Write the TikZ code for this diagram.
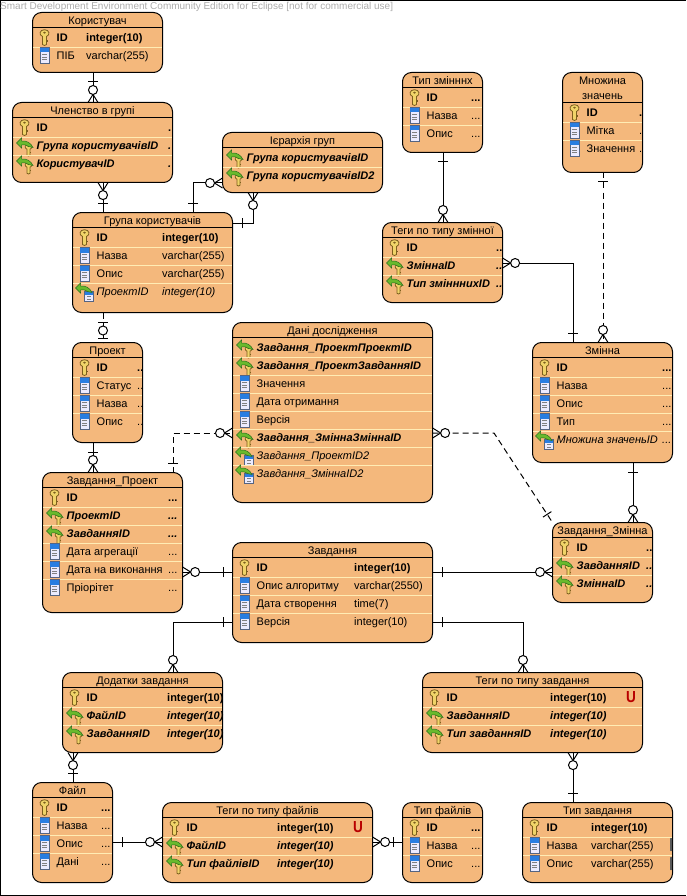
\documentclass[tikz,border=0pt]{standalone}
\usepackage{fontspec}
\setmainfont{Liberation Sans}
\usetikzlibrary{decorations.markings}
\definecolor{entityfill}{RGB}{244,184,124}
\definecolor{rowcream}{RGB}{255,236,180}
\definecolor{keygold}{RGB}{240,212,105}
\definecolor{keydark}{RGB}{125,95,30}
\definecolor{arrowgreen}{RGB}{105,185,45}
\definecolor{arrowdark}{RGB}{40,110,30}
\definecolor{colblue}{RGB}{40,125,225}
\definecolor{coledge}{RGB}{85,100,130}
\newcommand{\etc}{...}
\tikzset{%
	entity/.style    = {draw, fill=entityfill, rectangle, rounded corners=9pt, line width=1pt, inner sep=0pt, outer sep=0pt},
	titletext/.style = {inner sep=0pt, align=center, font=\fontsize{11}{15}\selectfont},
	rowtext/.style   = {inner sep=0pt, anchor=base west},
	row pk/.style    = {font=\fontsize{11}{13}\selectfont\bfseries},
	row fk/.style    = {font=\fontsize{11}{13}\selectfont\bfseries\itshape},
	row col/.style   = {font=\fontsize{11}{13}\selectfont},
	row fi/.style    = {font=\fontsize{11}{13}\selectfont\itshape},
	rowline/.style   = {draw=rowcream, line width=1pt},
	rel/.style       = {draw, line width=1pt},
	reld/.style      = {rel, dash pattern=on 6pt off 4pt},
	uniq/.style      = {inner sep=0pt, xscale=0.85, text=red!72!black, font=\fontsize{16}{16}\selectfont\bfseries},
	% relation ends
	one start/.style  = {postaction={decorate,decoration={markings,mark=at position 9.5pt with {\draw[solid] (0pt,-5pt) -- (0pt,5pt);}}}},
	one end/.style    = {postaction={decorate,decoration={markings,mark=at position -9.5pt with {\draw[solid] (0pt,-5pt) -- (0pt,5pt);}}}},
	many start/.style = {postaction={decorate,decoration={markings,mark=at position 0.1pt with {\draw[solid] (8pt,0pt) -- (0pt,5pt) (8pt,0pt) -- (0pt,-5pt);\draw[solid,fill=white] (12.5pt,0pt) circle (4.5pt);}}}},
	many end/.style   = {postaction={decorate,decoration={markings,mark=at position -8pt with {\draw[solid] (0pt,0pt) -- (8pt,5pt) (0pt,0pt) -- (8pt,-5pt);\draw[solid,fill=white] (-4.5pt,0pt) circle (4.5pt);}}}},
	zeroone end/.style = {postaction={decorate,decoration={markings,mark=at position -12pt with {\draw[solid,fill=white] (0pt,0pt) circle (4.5pt);\draw[solid] (8pt,-5pt) -- (8pt,5pt);}}}},
	% row icons, y runs downwards
	pics/key/.style = {code={
		\draw[draw=keydark, fill=keygold, line width=0.8pt] (-2,-1) -- (-2,7) -- (0,8) -- (2,7) -- (2,-1) .. controls (6,-2.5) and (5,-7.8) .. (0,-7.8) .. controls (-5,-7.8) and (-6,-2.5) .. (-2,-1) -- cycle;
		\fill[keydark] (0,-4.8) ellipse (1.4 and 1);
		\fill[keydark] (2,3) rectangle (3.2,4.2);
	}},
	pics/greenback/.style = {code={
		\draw[draw=arrowdark, fill=arrowgreen, line width=0.5pt] (-8,-2.5) -- (-3,-7.5) -- (-3,-4.5) .. controls (2,-5) and (6,-3) .. (8.5,2) -- (4,1) .. controls (1,-1) and (-1,-1) .. (-3,-0.5) -- (-3,2.5) -- cycle;
	}},
	pics/pk icon/.style = {code={\pic {key};}},
	pics/col icon/.style = {code={
		\draw[draw=coledge, fill=white!92!blue, line width=0.7pt] (-4.5,-8) rectangle (4.5,8);
		\fill[colblue] (-4.2,-7.7) rectangle (4.2,-3);
		\draw[gray, line width=0.7pt] (-2.5,-1) -- (2.5,-1) (-2.5,1.5) -- (2.5,1.5) (-2.5,4) -- (2.5,4);
	}},
	pics/fk icon/.style = {code={
		\pic[xshift=4pt, yshift=-4.5pt, scale=0.75] {key};
		\pic {greenback};
	}},
	pics/fi icon/.style = {code={
		\draw[draw=coledge, fill=white!92!blue, line width=0.6pt] (0,0) rectangle (9,9.5);
		\fill[colblue] (0.3,0.3) rectangle (8.7,3.2);
		\draw[gray, line width=0.6pt] (2.5,5) -- (6.5,5) (2.5,7.3) -- (6.5,7.3);
		\pic[xshift=-1pt, yshift=1pt] {greenback};
	}},
}
% [title height]{name}{left}{top}{right}{bottom}{title}{type column}{rows}
\newcommand{\entity}[9][15]{%
	\node[entity, minimum width={(#5-#3)*1pt}, minimum height={(#6-#4)*1pt}] (#2) at ({(#3+#5)/2},{(#4+#6)/2}) {};
	\pgfmathsetmacro{\titley}{#1/2+1.5}
	\node[titletext] (#2-title) at ([shift={(0,\titley)}]#2.north) {\strut #7};
	\draw[line width=1pt] ([yshift=-#1 pt]#2.north west) -- ([yshift=-#1 pt]#2.north east);
	\foreach \kind/\lab/\typ [count=\i] in {#9} {
		\pgfmathsetmacro{\rowy}{#1+18*\i-8}
		\pgfmathsetmacro{\liney}{#1+18*\i-16}
		\pgfmathsetmacro{\basey}{\rowy+4}
		\pgfmathsetmacro{\typx}{#8-#3}
		\ifnum\i>1
			\draw[rowline] ([shift={(0.5,\liney)}]#2.north west) -- ([shift={(-0.5,\liney)}]#2.north east);
		\fi
		\pic at ([shift={(12,\rowy)}]#2.north west) {\kind\space icon};
		\node[rowtext, row \kind] (#2-name-\i) at ([shift={(24,\basey)}]#2.north west) {\lab};
		\node[rowtext, row \kind] (#2-type-\i) at ([shift={(\typx,\basey)}]#2.north west) {\typ};
	}
}

\begin{document}
\begin{tikzpicture}[x=1pt, y=-1pt]
	\useasboundingbox (0,0) rectangle (686,896);
	\draw[line width=1pt] (686,0.5) -- (0.5,0.5) -- (0.5,895) -- (686,895);
	\node[inner sep=0pt, anchor=west, text=gray!65, font=\fontsize{10}{12}\selectfont] (banner) at (0,6.5) {Smart Development Environment Community Edition for Eclipse [not for commercial use]};

	\entity{user}{32.5}{12.5}{162.5}{72.5}{Користувач}{86}{pk/ID/integer(10), col/ПІБ/varchar(255)}
	\entity{member}{12.5}{102.5}{172.5}{182.5}{Членство в групі}{168}{pk/ID/., fk/Група користувачівID/., fk/КористувачID/.}
	\entity{hier}{222.5}{132.5}{382.5}{192.5}{Ієрархія груп}{382}{fk/Група користувачівID/{}, fk/Група користувачівID2/{}}
	\entity{group}{72.5}{212.5}{232.5}{312.5}{Група користувачів}{162}{pk/ID/integer(10), col/Назва/varchar(255), col/Опис/varchar(255), fi/ПроектID/integer(10)}
	\entity{proj}{72.5}{342.5}{142.5}{442.5}{Проект}{137}{pk/ID/.., col/Статус/.., col/Назва/.., col/Опис/..}
	\entity{zp}{42.5}{472.5}{182.5}{612.5}{Завдання\_Проект}{168}{pk/ID/\etc, fk/ПроектID/\etc, fk/ЗавданняID/\etc, col/Дата агрегації/\etc, col/Дата на виконання/\etc, col/Пріорітет/\etc}
	\entity{data}{232.5}{322.5}{432.5}{502.5}{Дані дослідження}{432}{fk/Завдання\_ПроектПроектID/{}, fk/Завдання\_ПроектЗавданняID/{}, col/Значення/{}, col/Дата отримання/{}, col/Версія/{}, fk/Завдання\_ЗміннаЗміннаID/{}, fi/Завдання\_ПроектID2/{}, fi/Завдання\_ЗміннаID2/{}}
	\entity{vtype}{402.5}{72.5}{482.5}{152.5}{Тип змінннх}{471}{pk/ID/\etc, col/Назва/\etc, col/Опис/\etc}
	\entity[30]{set}{562.5}{72.5}{642.5}{172.5}{Множина\\\strut значень}{639}{pk/ID/., col/Мітка/., col/Значення/.}
	\entity{tagv}{382.5}{222.5}{502.5}{302.5}{Теги по типу змінної}{496}{pk/ID/.., fk/ЗміннаID/.., fk/Тип змінннихID/..}
	\entity{var}{532.5}{342.5}{672.5}{462.5}{Змінна}{662}{pk/ID/\etc, col/Назва/\etc, col/Опис/\etc, col/Тип/\etc, fi/Множина значеньID/\etc}
	\entity{task}{232.5}{542.5}{432.5}{642.5}{Завдання}{354}{pk/ID/integer(10), col/Опис алгоритму/varchar(2550), col/Дата створення/time(7), col/Версія/integer(10)}
	\entity{zz}{552.5}{522.5}{652.5}{602.5}{Завдання\_Змінна}{646}{pk/ID/.., fk/ЗавданняID/.., fk/ЗміннаID/..}
	\entity{add}{62.5}{672.5}{222.5}{752.5}{Додатки завдання}{167}{pk/ID/integer(10), fk/ФайлID/integer(10), fk/ЗавданняID/integer(10)}
	\entity{tagt}{422.5}{672.5}{642.5}{752.5}{Теги по типу завдання}{550}{pk/ID/integer(10), fk/ЗавданняID/integer(10), fk/Тип завданняID/integer(10)}
	\entity{file}{32.5}{782.5}{112.5}{882.5}{Файл}{101}{pk/ID/\etc, col/Назва/\etc, col/Опис/\etc, col/Дані/\etc}
	\entity{tagf}{162.5}{802.5}{372.5}{882.5}{Теги по типу файлів}{277}{pk/ID/integer(10), fk/ФайлID/integer(10), fk/Тип файлівID/integer(10)}
	\entity{ftype}{402.5}{802.5}{482.5}{882.5}{Тип файлів}{471}{pk/ID/\etc, col/Назва/\etc, col/Опис/\etc}
	\entity{ttype}{522.5}{802.5}{672.5}{882.5}{Тип завдання}{591}{pk/ID/integer(10), col/Назва/varchar(255), col/Опис/varchar(255)}

	\node[uniq] (uniqf) at (358,827) {U};
	\node[uniq] (uniqt) at (631,697) {U};
	\fill[gray!70!black, rounded corners=0.5pt] (670,838) rectangle (672,851);
	\fill[gray!70!black, rounded corners=0.5pt] (670,857) rectangle (672,870);

	\coordinate (bend) at (494,433);

	\draw[rel,one start,many end] (93,0 |- user.south) -- (93,0 |- member.north);
	\draw[rel,many start,one end] (103,0 |- member.south) -- (103,0 |- group.north);
	\draw[rel,one start,many end] (193,0 |- group.north) |- (hier.west |- 0,183);
	\draw[rel,one start,many end] (group.east |- 0,223) -| (253,0 |- hier.south);
	\draw[reld,one start,zeroone end] (103,0 |- group.south) -- (103,0 |- proj.north);
	\draw[rel,one start,many end] (93,0 |- proj.south) -- (93,0 |- zp.north);
	\draw[reld,one start,many end] (173,0 |- zp.north) |- (data.west |- 0,433);
	\draw[reld,many start,one end] (data.east |- 0,433) -- (bend) -- (zz.north west);
	\draw[rel,many start,one end] (zp.east |- 0,572) -- (task.west |- 0,572);
	\draw[rel,one start,many end] (task.east |- 0,572) -- (zz.west |- 0,572);
	\draw[rel,one start,many end] (633,0 |- var.south) -- (633,0 |- zz.north);
	\draw[rel,one start,many end] (task.west |- 0,622) -| (173,0 |- add.north);
	\draw[rel,one start,many end] (task.east |- 0,622) -| (523,0 |- tagt.north);
	\draw[rel,many start,one end] (73,0 |- add.south) -- (73,0 |- file.north);
	\draw[rel,many start,one end] (573,0 |- tagt.south) -- (573,0 |- ttype.north);
	\draw[rel,one start,many end] (file.east |- 0,842) -- (tagf.west |- 0,842);
	\draw[rel,many start,one end] (tagf.east |- 0,842) -- (ftype.west |- 0,842);
	\draw[rel,one start,many end] (443,0 |- vtype.south) -- (443,0 |- tagv.north);
	\draw[rel,many start,one end] (tagv.east |- 0,263) -| (573,0 |- var.north);
	\draw[reld,one start,many end] (603,0 |- set.south) -- (603,0 |- var.north);
\end{tikzpicture}
\end{document}
